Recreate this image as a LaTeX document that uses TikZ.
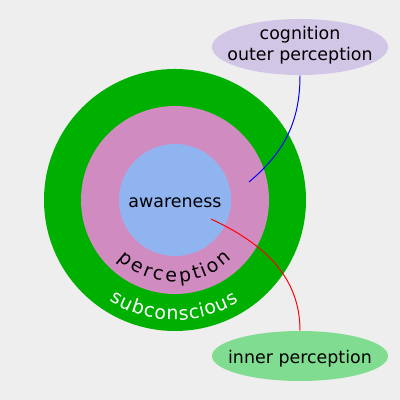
\documentclass[tikz,border=0pt]{standalone}
\usepackage{fontspec}
\setmainfont{DejaVu Sans}
\usetikzlibrary{shapes.geometric,calc,decorations.text}
\definecolor{bgcol}{HTML}{EEEEEE}
\definecolor{subgreen}{HTML}{00B000}
\definecolor{percpink}{HTML}{D08CC0}
\definecolor{awareblue}{HTML}{90B4F0}
\definecolor{cognlav}{HTML}{D2C6E6}
\definecolor{innergreen}{HTML}{80DC90}
\newcommand{\ringfont}{\fontsize{12.4}{15}\selectfont}
\newcommand{\arcfont}{\fontsize{13.5}{16}\selectfont}
\tikzset{
  ring/.style={circle, inner sep=0pt, draw=none},
  bubble/.style={ellipse, inner sep=0pt, draw=none, minimum width=4.4cm},
  link/.style={line width=0.7pt},
}
\begin{document}
\begin{tikzpicture}[font=\ringfont]
            % 背景
            \fill[bgcol] (0,0) rectangle (10,10);
            \useasboundingbox (0,0) rectangle (10,10);
            \coordinate (c) at (4.375,5);

            % 三个同心圆
            \node[ring, fill=subgreen, minimum size=6.55cm] (sub) at (c) {};
            \node[ring, fill=percpink, minimum size=4.7cm] (perc) at (c) {};
            \node[ring, fill=awareblue, minimum size=2.8cm] (aware) at (c) {};
            \node (awaretext) at ([yshift=-0.7mm]aware.center) {awareness};

            % 沿圆弧的文字
            \path[font=\arcfont, decorate, decoration={text effects along path, text={perception},
                text effects/.cd, text along path, fit text to path,
                every character/.style={text=black, font=\arcfont}}]
                ($(c)+(-134:2.05)$) arc[start angle=-134, end angle=-46, radius=2.05];
            \path[font=\arcfont, decorate, decoration={text effects along path, text={subconscious},
                text effects/.cd, text along path, fit text to path,
                every character/.style={text=white, font=\arcfont}}]
                ($(c)+(-123:3)$) arc[start angle=-123, end angle=-58, radius=3];

            % 两个椭圆
            \node[bubble, fill=cognlav, minimum height=1.4cm] (cogn) at (7.5,8.825) {};
            \node[align=center] (cogntext) at ([yshift=0.5mm]cogn.center) {cognition\\outer perception};
            \node[bubble, fill=innergreen, minimum height=1.25cm] (inner) at (7.5,1.1) {};
            \node (innertext) at ([yshift=-0.7mm]inner.center) {inner perception};

            % 连线
            \coordinate (blueend) at (6.225,5.45);
            \coordinate (redstart) at (5.275,4.525);
            \draw[link, blue] (cogn.south) to[out=-90, in=40] (blueend);
            \draw[link, red] (redstart) to[out=-25, in=90] (inner.north);
        \end{tikzpicture}
\end{document}
